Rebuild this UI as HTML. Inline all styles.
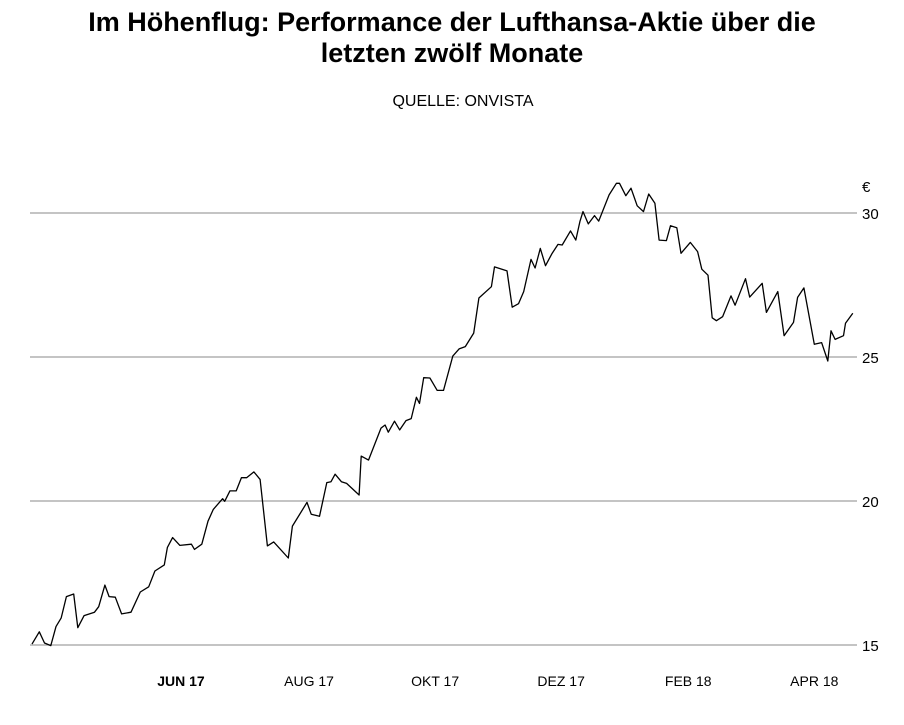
<!DOCTYPE html>
<html><head><meta charset="utf-8"><style>
body{margin:0;background:#fff;width:904px;height:720px;overflow:hidden;font-family:"Liberation Sans",sans-serif;}
</style></head><body>
<svg width="904" height="720" font-family="Liberation Sans, sans-serif">
<text x="452" y="31" text-anchor="middle" font-size="27" font-weight="bold">Im Höhenflug: Performance der Lufthansa-Aktie über die</text>
<text x="452" y="62" text-anchor="middle" font-size="27" font-weight="bold">letzten zwölf Monate</text>
<text x="463" y="106" text-anchor="middle" font-size="16">QUELLE: ONVISTA</text>
<text x="862" y="192" font-size="15">€</text>
<g id="grid"></g>
<g id="xt"></g>
<path id="line" fill="none" stroke="#000" stroke-width="1.3" stroke-linejoin="round"/>
</svg>
<script>
const days=[0,7,12,18,23,28,33,40,44,50,60,64,70,74,80,86,95,104,112,118,127,130,135,142,153,156,163,169,174,183,185,190,196,201,206,213,219,226,232,246,250,264,268,276,283,287,291,297,302,314,316,323,335,339,342,348,353,359,364,369,372,376,382,389,395,404,410,416,424,429,441,444,456,461,467,472,479,483,488,493,499,505,509,517,522,526,529,534,540,544,554,561,564,570,575,581,587,592,598,602,609,613,619,623,632,639,643,649,653,657,663,671,675,685,689,701,705,716,722,731,735,741,751,758,764,767,771,779,781,788];
const prices=[15.03,15.46,15.07,14.98,15.64,15.94,16.68,16.77,15.60,16.02,16.14,16.33,17.08,16.68,16.66,16.08,16.14,16.84,17.02,17.57,17.78,18.39,18.73,18.46,18.50,18.32,18.50,19.30,19.71,20.08,19.99,20.35,20.35,20.81,20.81,21.01,20.75,18.44,18.58,18.02,19.13,19.95,19.54,19.47,20.64,20.67,20.93,20.67,20.61,20.21,21.56,21.42,22.53,22.64,22.39,22.77,22.47,22.79,22.86,23.60,23.39,24.28,24.27,23.84,23.84,25.03,25.28,25.36,25.83,27.05,27.44,28.13,27.99,26.73,26.85,27.27,28.39,28.09,28.77,28.17,28.58,28.91,28.89,29.38,29.06,29.70,30.05,29.62,29.91,29.72,30.63,31.03,31.03,30.60,30.86,30.25,30.05,30.66,30.34,29.06,29.04,29.56,29.49,28.60,28.98,28.66,28.05,27.84,26.36,26.26,26.40,27.12,26.80,27.72,27.08,27.56,26.55,27.27,25.74,26.20,27.07,27.40,25.44,25.50,24.86,25.91,25.61,25.74,26.17,26.52];
const yTicks=[15,20,25,30];
const xTickLabels=["JUN 17","AUG 17","OKT 17","DEZ 17","FEB 18","APR 18"];
const xTickDays=[143,266,387,508,630,751];
const NS="http://www.w3.org/2000/svg";
function X(d){return 32+d/0.96;}
function Y(v){return 645-(v-15)*28.8;}
const grid=document.getElementById('grid');
yTicks.forEach(t=>{
  const l=document.createElementNS(NS,'line');
  
  
  l.setAttribute('x1',30);l.setAttribute('x2',857);
  l.setAttribute('y1',Y(t));l.setAttribute('y2',Y(t));
  l.setAttribute('stroke','#a0a0a0');l.setAttribute('stroke-width','1.2');
  grid.appendChild(l);
  const tx=document.createElementNS(NS,'text');
  
  
  tx.setAttribute('x',862);tx.setAttribute('y',Y(t)+6);
  tx.setAttribute('font-size','15');
  tx.textContent=t;
  grid.appendChild(tx);
});
const xt=document.getElementById('xt');
xTickLabels.forEach((s,i)=>{
  const tx=document.createElementNS(NS,'text');
  
  
  tx.setAttribute('x',X(xTickDays[i]));tx.setAttribute('y',686);
  tx.setAttribute('text-anchor','middle');tx.setAttribute('font-size','14');
  if(i===0)tx.setAttribute('font-weight','bold');
  tx.textContent=s;
  xt.appendChild(tx);
});
document.getElementById('line').setAttribute('d',days.map((d,i)=>(i?'L':'M')+X(d).toFixed(1)+','+Y(prices[i]).toFixed(1)).join(''));
</script>
</body></html>
